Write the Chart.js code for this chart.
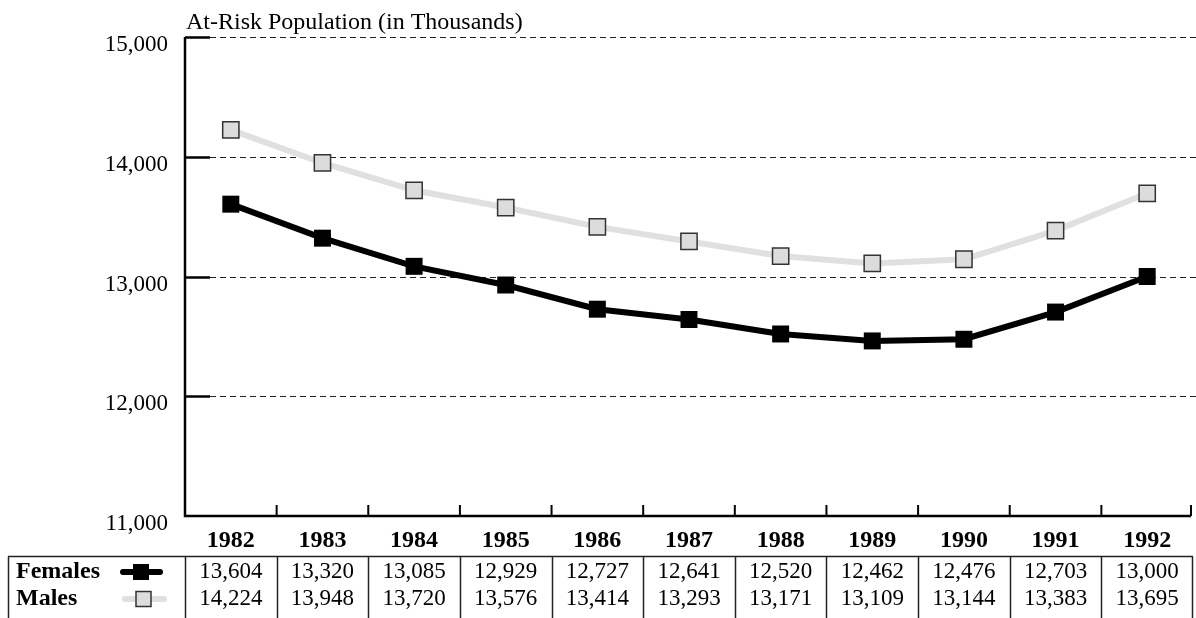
<!DOCTYPE html>
<html>
<head>
<meta charset="utf-8">
<script src="https://cdn.jsdelivr.net/npm/chart.js@4/dist/chart.umd.min.js"></script>
<style>
  html, body { margin: 0; padding: 0; background: #fff; }
  #wrap { width: 1196px; height: 618px; position: relative; }
  canvas { display: block; }
</style>
</head>
<body>
<div id="wrap"><canvas id="chart" width="1196" height="618"></canvas></div>
<script>
// data
const years   = ['1982','1983','1984','1985','1986','1987','1988','1989','1990','1991','1992'];
const females = [13604, 13320, 13085, 12929, 12727, 12641, 12520, 12462, 12476, 12703, 13000];
const males   = [14224, 13948, 13720, 13576, 13414, 13293, 13171, 13109, 13144, 13383, 13695];
const yTicks  = [11000, 12000, 13000, 14000, 15000];
const titulo  = 'At-Risk Population (in Thousands)';

const SERIF = "'Liberation Serif', 'Times New Roman', serif";
const GRIS_LINEA = '#e0e0e0';
const GRIS_CAJA  = '#dcdcdc';

function fmt(v) { return Number(v).toLocaleString('en-US'); }

// gridlines, axes and the title
const ejesPlugin = {
    id: 'ejes',
    beforeDatasetsDraw(chart) {
        const ctx = chart.ctx;
        const y = chart.scales.y, x = chart.scales.x;
        const a = chart.chartArea;
        ctx.save();
        yTicks.forEach(v => {
            if (v === yTicks[0]) return;
            const py = Math.round(y.getPixelForValue(v)) + 0.5;
            ctx.setLineDash([6, 4]);
            ctx.lineWidth = 1.2;
            ctx.strokeStyle = '#222';
            ctx.beginPath();
            ctx.moveTo(a.left + 25, py);
            ctx.lineTo(chart.width, py);
            ctx.stroke();
            ctx.setLineDash([]);
            ctx.lineWidth = 2.5;
            ctx.strokeStyle = '#000';
            ctx.beginPath();
            ctx.moveTo(a.left, py);
            ctx.lineTo(a.left + 25, py);
            ctx.stroke();
        });
        // axis lines
        ctx.lineWidth = 2.5;
        ctx.strokeStyle = '#000';
        ctx.beginPath();
        ctx.moveTo(a.left, y.getPixelForValue(yTicks[yTicks.length - 1]));
        ctx.lineTo(a.left, a.bottom);
        ctx.lineTo(a.right - 2, a.bottom);
        ctx.stroke();
        // category ticks upward
        const w = x.getPixelForValue(1) - x.getPixelForValue(0);
        ctx.lineWidth = 2;
        for (let i = 1; i <= years.length; i++) {
            let px = x.getPixelForValue(i - 1) + w / 2;
            if (i === years.length) px = a.right - 2;
            ctx.beginPath();
            ctx.moveTo(px, a.bottom);
            ctx.lineTo(px, a.bottom - 11);
            ctx.stroke();
        }
        // title
        ctx.fillStyle = '#000';
        ctx.font = '24px ' + SERIF;
        ctx.textAlign = 'left';
        ctx.textBaseline = 'alphabetic';
        ctx.fillText(titulo, a.left + 1, 29);
        ctx.restore();
    }
};

// data table under the chart
const tablaPlugin = {
    id: 'tabla',
    afterDraw(chart) {
        const ctx = chart.ctx;
        const x = chart.scales.x;
        const a = chart.chartArea;
        const w = x.getPixelForValue(1) - x.getPixelForValue(0);
        const top = 556.5, bottom = chart.height;
        const filas = [572, 599];
        ctx.save();
        ctx.strokeStyle = '#222';
        ctx.lineWidth = 1.5;
        ctx.beginPath();
        ctx.moveTo(8, top);
        ctx.lineTo(a.right, top);
        ctx.moveTo(8.5, top);
        ctx.lineTo(8.5, bottom);
        for (let i = 0; i < years.length; i++) {
            const px = Math.round(x.getPixelForValue(i) - w / 2) + 0.5;
            ctx.moveTo(px, top);
            ctx.lineTo(px, bottom);
        }
        ctx.moveTo(a.right - 0.5, top);
        ctx.lineTo(a.right - 0.5, bottom);
        ctx.stroke();

        // values
        ctx.fillStyle = '#000';
        ctx.font = '23px ' + SERIF;
        ctx.textAlign = 'center';
        ctx.textBaseline = 'middle';
        years.forEach((yr, i) => {
            const px = x.getPixelForValue(i);
            ctx.fillText(fmt(females[i]), px, filas[0]);
            ctx.fillText(fmt(males[i]), px, filas[1]);
        });

        // row names
        ctx.font = 'bold 24px ' + SERIF;
        ctx.textAlign = 'left';
        ctx.fillText('Females', 16, filas[0]);
        ctx.fillText('Males', 16, filas[1]);

        // legend samples
        ctx.lineCap = 'round';
        ctx.lineWidth = 6;
        ctx.strokeStyle = '#000';
        ctx.beginPath();
        ctx.moveTo(123, filas[0]); ctx.lineTo(160, filas[0]);
        ctx.stroke();
        ctx.fillStyle = '#000';
        ctx.fillRect(133, filas[0] - 8, 16, 16);

        ctx.strokeStyle = GRIS_LINEA;
        ctx.beginPath();
        ctx.moveTo(125, filas[1]); ctx.lineTo(164, filas[1]);
        ctx.stroke();
        ctx.fillStyle = GRIS_CAJA;
        ctx.fillRect(136, filas[1] - 7.5, 15, 15);
        ctx.lineWidth = 1.5;
        ctx.strokeStyle = '#333';
        ctx.strokeRect(136, filas[1] - 7.5, 15, 15);
        ctx.restore();
    }
};

new Chart(document.getElementById('chart'), {
    type: 'line',
    data: {
        labels: years,
        datasets: [
            {
                label: 'Males',
                data: males,
                borderColor: GRIS_LINEA,
                borderWidth: 6,
                pointStyle: 'rect',
                pointRadius: 11.5,
                pointBackgroundColor: GRIS_CAJA,
                pointBorderColor: '#333',
                pointBorderWidth: 1.5,
                tension: 0
            },
            {
                label: 'Females',
                data: females,
                borderColor: '#000',
                borderWidth: 6,
                pointStyle: 'rect',
                pointRadius: 12,
                pointBackgroundColor: '#000',
                pointBorderColor: '#000',
                pointBorderWidth: 0,
                tension: 0
            }
        ]
    },
    options: {
        responsive: false,
        animation: false,
        devicePixelRatio: 1,
        layout: { autoPadding: false, padding: { top: 37, right: 3, left: 0, bottom: 0 } },
        plugins: { legend: { display: false }, tooltip: { enabled: false } },
        scales: {
            x: {
                type: 'category',
                offset: true,
                grid: { display: false, drawTicks: false },
                border: { display: false },
                ticks: {
                    color: '#000',
                    padding: 10,
                    font: { family: SERIF, size: 24, weight: 'bold' },
                    maxRotation: 0,
                    autoSkip: false
                },
                afterFit(scale) { scale.height = 102; }
            },
            y: {
                min: yTicks[0],
                max: yTicks[yTicks.length - 1],
                grid: { display: false, drawTicks: false },
                border: { display: false },
                afterBuildTicks(scale) { scale.ticks = yTicks.map(v => ({ value: v })); },
                ticks: {
                    color: '#000',
                    padding: 17,
                    labelOffset: 8,
                    font: { family: SERIF, size: 23 },
                    callback: v => fmt(v)
                },
                afterFit(scale) { scale.width = 185; }
            }
        }
    },
    plugins: [ejesPlugin, tablaPlugin]
});
</script>
</body>
</html>
